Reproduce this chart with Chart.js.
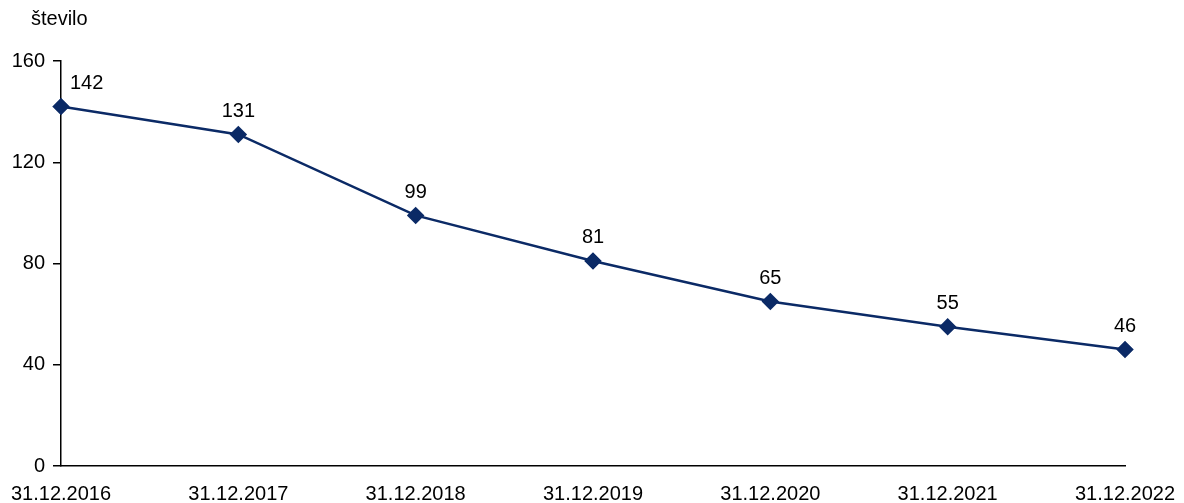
<!DOCTYPE html>
<html><head><meta charset="utf-8">
<script src="https://cdn.jsdelivr.net/npm/chart.js@4"></script>
<style>html,body{margin:0;padding:0;background:#fff}#wrap{width:1184px;height:503px;position:relative}</style>
</head><body><div id="wrap"><canvas id="c"></canvas></div>
<script>
const categories = ['31.12.2016','31.12.2017','31.12.2018','31.12.2019','31.12.2020','31.12.2021','31.12.2022'];
const values = [142,131,99,81,65,55,46];
const yTicks = [0,40,80,120,160];
const yTitle = 'število';
const FONT = "'Liberation Sans', Arial, sans-serif";
const COLOR = '#0b2a66';

const labelPlugin = {
  id: 'labels',
  afterDatasetsDraw(chart) {
    const ctx = chart.ctx;
    const meta = chart.getDatasetMeta(0);
    ctx.save();
    ctx.font = '20px ' + FONT;
    ctx.fillStyle = '#000';
    ctx.textBaseline = 'middle';
    meta.data.forEach((p, i) => {
      if (i === 0) { ctx.textAlign = 'left'; ctx.fillText(String(values[i]), p.x + 9, p.y - 23); }
      else { ctx.textAlign = 'center'; ctx.fillText(String(values[i]), p.x, p.y - 23); }
    });
    ctx.textAlign = 'left';
    ctx.fillText(yTitle, 31, 19);
    ctx.restore();
  }
};

new Chart(document.getElementById('c'), {
  type: 'line',
  data: { labels: categories, datasets: [{ data: values, borderColor: COLOR, backgroundColor: COLOR, borderWidth: 2.5, pointStyle: 'rectRot', pointRadius: 7, pointHoverRadius: 7, tension: 0 }] },
  options: {
    responsive: true, maintainAspectRatio: false, animation: false,
    layout: { padding: { top: 61, right: 59, left: 0, bottom: 0 } },
    plugins: { legend: { display: false }, tooltip: { enabled: false } },
    scales: {
      x: {
        offset: false,
        grid: { display: true, drawOnChartArea: false, drawTicks: false },
        border: { display: true, color: '#000', width: 1.5 },
        ticks: { color: '#000', font: { family: FONT, size: 20 }, maxRotation: 0, autoSkip: false, padding: 16 },
        afterFit(s) { s.height = 37; s.paddingLeft = 0; s.paddingRight = 0; }
      },
      y: {
        min: 0, max: 160,
        afterBuildTicks(s) { s.ticks = yTicks.map(v => ({ value: v })); },
        grid: { display: true, drawOnChartArea: false, drawTicks: true, tickLength: 8, color: '#000', lineWidth: 1.5 },
        border: { display: true, color: '#000', width: 1.5 },
        ticks: { color: '#000', font: { family: FONT, size: 20 }, padding: 8 },
        afterFit(s) { s.width = 61; s.paddingTop = 0; s.paddingBottom = 0; }
      }
    }
  },
  plugins: [labelPlugin]
});
</script></body></html>
